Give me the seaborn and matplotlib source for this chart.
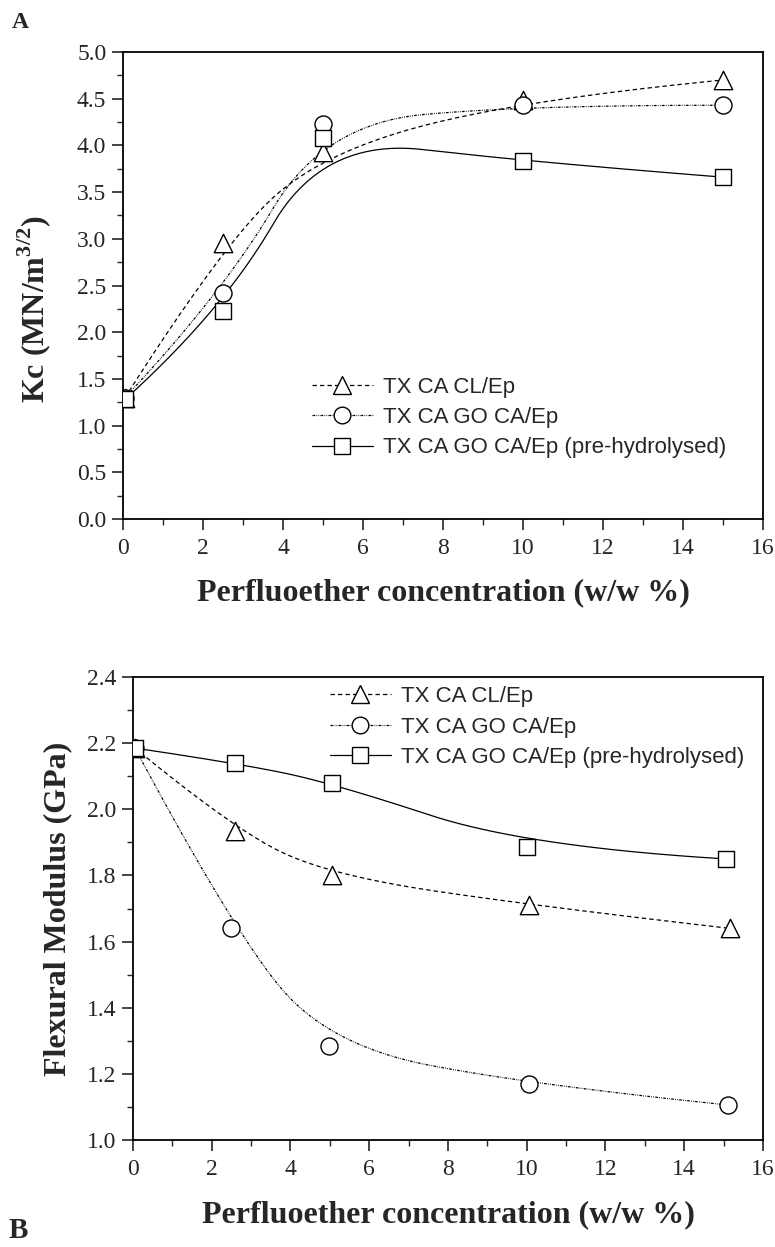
import numpy as np
import matplotlib
matplotlib.use("Agg")
import matplotlib.pyplot as plt
from matplotlib.lines import Line2D
from matplotlib.ticker import MultipleLocator
import seaborn as sns

# ---------------- data ----------------
labels = ["TX CA CL/Ep", "TX CA GO CA/Ep", "TX CA GO CA/Ep (pre-hydrolysed)"]

# Panel A: Kc (MN/m^3/2)
a_x = [0.05, 2.5, 5.0, 10.0, 15.0]
a_cl = [1.30, 2.95, 3.93, 4.49, 4.70]
a_go = [1.30, 2.42, 4.23, 4.43, 4.43]
a_ph = [1.28, 2.23, 4.08, 3.83, 3.66]

# Panel B: Flexural Modulus (GPa)
b_x_cl = [0.05, 2.6, 5.05, 10.05, 15.15]
b_cl = [2.185, 1.935, 1.80, 1.71, 1.64]
b_x_go = [0.05, 2.5, 4.97, 10.05, 15.1]
b_go = [2.185, 1.64, 1.285, 1.168, 1.106]
b_x_ph = [0.05, 2.6, 5.05, 10.0, 15.05]
b_ph = [2.185, 2.14, 2.08, 1.886, 1.85]

x_ticks = list(range(0, 17, 2))
a_yticks = [round(0.5 * i, 1) for i in range(11)]
b_yticks = [1.0, 1.2, 1.4, 1.6, 1.8, 2.0, 2.2, 2.4]


def bspline_curve(cx, cy, n=300, k=2):
    """Clamped uniform B-spline using the data points as control points."""
    cx = np.asarray(cx, float)
    cy = np.asarray(cy, float)
    m = len(cx)
    k = min(k, m - 1)
    knots = np.concatenate([np.zeros(k), np.linspace(0, 1, m - k + 1), np.ones(k)])
    t = np.linspace(0, 1, n)
    N = np.zeros((len(knots) - 1, n))
    for i in range(len(knots) - 1):
        N[i] = ((t >= knots[i]) & (t < knots[i + 1])).astype(float)
    last = np.max(np.where(knots[:-1] < knots[1:])[0])
    N[last, t == 1.0] = 1.0
    for d in range(1, k + 1):
        Nn = np.zeros((len(knots) - 1 - d, n))
        for i in range(len(knots) - 1 - d):
            a = knots[i + d] - knots[i]
            b = knots[i + d + 1] - knots[i + 1]
            term = np.zeros(n)
            if a > 0:
                term += (t - knots[i]) / a * N[i]
            if b > 0:
                term += (knots[i + d + 1] - t) / b * N[i + 1]
            Nn[i] = term
        N = Nn
    return N.T @ cx, N.T @ cy


# ---------------- style ----------------
sns.set_style("ticks")
plt.rcParams["font.family"] = ["Liberation Serif", "DejaVu Serif"]
plt.rcParams["mathtext.fontset"] = "custom"
plt.rcParams["mathtext.rm"] = "Liberation Serif"
plt.rcParams["mathtext.bf"] = "Liberation Serif:bold"
plt.rcParams["axes.linewidth"] = 1.3

fig = plt.figure(figsize=(7.75, 12.47), dpi=100)
ax_a = fig.add_axes([0.1587, 0.5838, 0.8258, 0.3745])
ax_b = fig.add_axes([0.1716, 0.0858, 0.8129, 0.3713])

styles = [
    dict(ls=(0, (3.5, 2.5)), marker="^", ms=13, s=175),
    dict(ls=(0, (2.2, 1.0, 0.6, 1.0, 0.6, 1.0)), marker="o", ms=12, s=150),
    dict(ls="-", marker="s", ms=11, s=125),
]

panel_a = [(a_x, a_cl), (a_x, a_go), (a_x, a_ph)]
panel_b = [(b_x_cl, b_cl), (b_x_go, b_go), (b_x_ph, b_ph)]


def draw(ax, series):
    for (xs, ys), st in zip(series, styles):
        cx, cy = bspline_curve(xs, ys)
        sns.lineplot(x=cx, y=cy, sort=False, estimator=None, ax=ax,
                     color="black", linewidth=0.9, linestyle=st["ls"], zorder=2)
        sns.scatterplot(x=xs, y=ys, ax=ax, marker=st["marker"], s=st["s"],
                        color="white", edgecolor="black", linewidth=1.0,
                        zorder=3, legend=False)


draw(ax_a, panel_a)
draw(ax_b, panel_b)

handles = [Line2D([], [], color="black", linewidth=0.9, linestyle=st["ls"],
                  marker=st["marker"], markersize=st["ms"], markerfacecolor="white",
                  markeredgecolor="black", markeredgewidth=1.0) for st in styles]

leg_kw = dict(frameon=False, borderpad=0, borderaxespad=0, handlelength=2.75,
              handletextpad=0.45, labelspacing=0.42,
              prop={"family": "Liberation Sans", "size": 16})

ax_a.legend(handles, labels, loc="center left", bbox_to_anchor=(0.295, 0.217), **leg_kw)
ax_b.legend(handles, labels, loc="center left", bbox_to_anchor=(0.312, 0.892), **leg_kw)

# axes formatting
for ax in (ax_a, ax_b):
    ax.set_xlim(0, 16)
    ax.set_xticks(x_ticks)
    ax.xaxis.set_minor_locator(MultipleLocator(1))
    ax.tick_params(axis="both", which="major", direction="out", length=8, width=1.2,
                   labelsize=17)
    ax.tick_params(axis="both", which="minor", direction="out", length=4.5, width=1.0)
    ax.tick_params(axis="x", which="major", pad=6)
    ax.tick_params(axis="y", which="major", pad=4)
    for sp in ax.spines.values():
        sp.set_visible(True)
        sp.set_linewidth(1.3)
        sp.set_color("black")

ax_a.set_ylim(0, 5.0)
ax_a.set_yticks(a_yticks)
ax_a.set_yticklabels([f"{v:.1f}" for v in a_yticks])
ax_a.yaxis.set_minor_locator(MultipleLocator(0.25))

ax_b.set_ylim(1.0, 2.4)
ax_b.set_yticks(b_yticks)
ax_b.set_yticklabels([f"{v:.1f}" for v in b_yticks])
ax_b.yaxis.set_minor_locator(MultipleLocator(0.1))

xlabel = "Perfluoether concentration (w/w %)"
ax_a.set_xlabel(xlabel, fontsize=23, fontweight="bold")
ax_b.set_xlabel(xlabel, fontsize=23, fontweight="bold")
ax_a.xaxis.set_label_coords(0.5, -0.126)
ax_b.xaxis.set_label_coords(0.5, -0.130)

ax_a.set_ylabel(r"Kc (MN/m$^{\mathbf{3/2}}$)", fontsize=23, fontweight="bold")
ax_b.set_ylabel("Flexural Modulus (GPa)", fontsize=23, fontweight="bold")
ax_a.yaxis.set_label_coords(-0.109, 0.45)
ax_b.yaxis.set_label_coords(-0.097, 0.5)

fig.text(20 / 775, 1 - 22 / 1247, "A", fontsize=17, fontweight="bold",
         ha="center", va="center")
fig.text(18 / 775, 1 - 1230 / 1247, "B", fontsize=21, fontweight="bold",
         ha="center", va="center")

fig.savefig("out.png", dpi=100)
